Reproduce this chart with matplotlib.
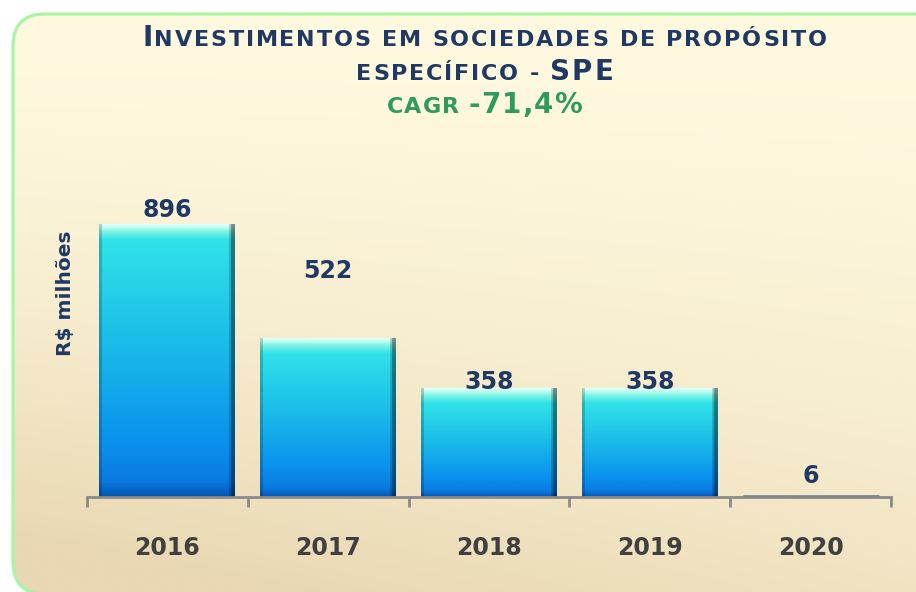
import numpy as np
import matplotlib
matplotlib.use("Agg")
import matplotlib.pyplot as plt
from matplotlib.patches import FancyBboxPatch, Rectangle
from matplotlib.colors import LinearSegmentedColormap, to_rgb
from matplotlib.offsetbox import TextArea, HPacker, AnnotationBbox

# dados
anos = ["2016", "2017", "2018", "2019", "2020"]
valores = [896, 522, 358, 358, 6]
rotulos = ["896", "522", "358", "358", "6"]
# deslocamento vertical dos rotulos (pontos)
desloc_rotulos = [10, 48, 4, 4, 14]

azul_escuro = "#1f3864"
verde = "#2e9a5c"
cinza_txt = "#404040"

fig = plt.figure(figsize=(9.16, 5.92), dpi=100)
fig.patch.set_facecolor("white")

# fundo arredondado com degrade (coordenadas em pixels, y para cima)
fundo_ax = fig.add_axes([0, 0, 1, 1])
fundo_ax.set_xlim(0, 916)
fundo_ax.set_ylim(0, 592)
fundo_ax.axis("off")
cant = FancyBboxPatch((13, -2), 940, 580, boxstyle="round,pad=0,rounding_size=32",
                      facecolor="none", edgecolor="#a3f7a0", linewidth=2.2, zorder=3)
fundo_ax.add_patch(cant)
yy, xx = np.mgrid[0:1:200j, 0:1:300j]
tt = np.clip(0.75 * yy + 0.35 * (1 - xx) * yy, 0, 1)
c_top = np.array(to_rgb("#fff9df"))
c_bot = np.array(to_rgb("#e9d8b3"))
img = c_top[None, None, :] * (1 - tt[..., None] ** 1.6) + c_bot[None, None, :] * (tt[..., None] ** 1.6)
im = fundo_ax.imshow(img, extent=(13, 953, -2, 578), aspect="auto", origin="upper", zorder=1)
clip = FancyBboxPatch((13, -2), 940, 580, boxstyle="round,pad=0,rounding_size=32",
                      facecolor="none", edgecolor="none", transform=fundo_ax.transData)
im.set_clip_path(clip)
fundo_ax.set_xlim(0, 916)
fundo_ax.set_ylim(0, 592)

# eixo principal
ax = fig.add_axes([0.095, 0.1605, 0.8777, 0.603])
ax.patch.set_alpha(0)
ax.set_xlim(-0.5, 4.5)
ax.set_ylim(0, 1170)
for s in ["top", "right", "left"]:
    ax.spines[s].set_visible(False)
ax.spines["bottom"].set_color("#8a8a8a")
ax.spines["bottom"].set_linewidth(2)
ax.set_yticks([])
ax.set_xticks(np.arange(-0.5, 5, 1))
ax.set_xticklabels([])
ax.tick_params(axis="x", which="major", direction="out", length=7, width=2, color="#8a8a8a")
ax.set_xticks(range(len(anos)), minor=True)
ax.set_xticklabels(anos, minor=True, fontsize=17, fontweight="bold", color=cinza_txt,
                   family="DejaVu Sans")
ax.tick_params(axis="x", which="minor", length=0, pad=28)

# gradiente das barras
grad_cmap = LinearSegmentedColormap.from_list("barra", [
    (0.0, "#f0fffc"), (0.04, "#b8fff0"), (0.08, "#7ff2e4"), (0.16, "#30e2e8"), (0.5, "#1abce9"),
    (0.82, "#0a92ee"), (0.95, "#0a7ae0"), (1.0, "#0458b6")])

largura = 0.845
fig.canvas.draw()
for i, v in enumerate(valores):
    x0 = i - largura / 2
    x1 = i + largura / 2
    px = ax.transData.transform([(0, 0), (0, v)])
    h_px = max(abs(px[1][1] - px[0][1]), 1)
    n = 300
    t = np.linspace(0, 1, n)
    # faixa de brilho no topo com altura fixa em pixels
    lim = 16
    tt_b = np.where(t * h_px < lim, t * h_px / lim * 0.16,
                    0.16 + (t * h_px - lim) / max(h_px - lim, 1) * 0.84)
    tt_b = np.clip(tt_b, 0, 1)
    cols = grad_cmap(tt_b)[:, :3]
    m = 140
    xs = np.linspace(0, 1, m)
    sh = np.ones(m)
    sh[xs < 0.02] = 0.8
    sh[xs > 0.975] = 0.55
    sh[(xs > 0.96) & (xs <= 0.975)] = 0.8
    barra = cols[:, None, :] * sh[None, :, None]
    bim = ax.imshow(barra, extent=(x0, x1, 0, v), aspect="auto", origin="upper", zorder=2,
                    interpolation="bilinear")
    r = Rectangle((x0, 0), largura, v, transform=ax.transData, facecolor="none", edgecolor="none")
    ax.add_patch(r)
    bim.set_clip_path(r)
    if v < 20:
        ax.plot([x0, x1], [v / 2, v / 2], color="#7a8a9a", lw=2, zorder=3, solid_capstyle="butt")
    ax.annotate(rotulos[i], (i, v), xytext=(0, desloc_rotulos[i]), textcoords="offset points",
                ha="center", va="center", fontsize=17, fontweight="bold", color=azul_escuro,
                family="DejaVu Sans", zorder=5)
ax.set_xlim(-0.5, 4.5)
ax.set_ylim(0, 1170)

fig.text(0.071, 0.505, "R$ milhões", rotation=90, ha="center", va="center",
         fontsize=14.5, fontweight="bold", color=azul_escuro, family="DejaVu Sans")

# titulo em versalete (letras separadas para imitar a Verdana larga)
grande = 20
pequeno = 16


def linha(partes, y, cor, sep):
    filhos = []
    for txt, tam in partes:
        for ch in txt:
            filhos.append(TextArea(ch, textprops=dict(fontsize=tam, fontweight="bold", color=cor,
                                                      family="DejaVu Sans")))
    caixa = HPacker(children=filhos, align="baseline", pad=0, sep=sep)
    ab = AnnotationBbox(caixa, (0.529, y), xycoords="figure fraction", frameon=False,
                        box_alignment=(0.5, 0.5), zorder=10)
    fig.add_artist(ab)


linha([("I", grande), ("NVESTIMENTOS EM SOCIEDADES DE PROPÓSITO", pequeno)], 0.936, azul_escuro, 1.3)
linha([("ESPECÍFICO - ", pequeno), ("SPE", grande)], 0.878, azul_escuro, 1.3)
linha([("CAGR ", pequeno), ("-71,4%", grande)], 0.822, verde, 0.8)

fig.savefig("out.png", dpi=100, facecolor=fig.get_facecolor())
